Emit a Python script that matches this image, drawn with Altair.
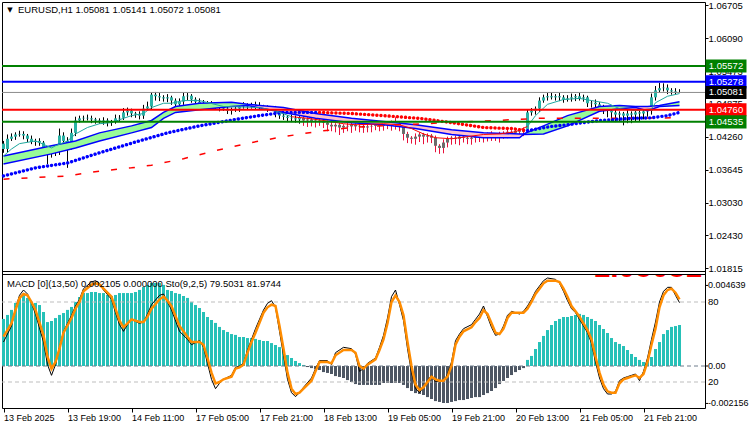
import altair as alt
import pandas as pd

# ---------------- values ----------------
symbol_line = "EURUSD,H1  1.05081 1.05141 1.05072 1.05081"
osc_line = "MACD [0](13,50) 0.002105 0.000000   Sto(9,2,5) 79.5031 81.9744"
big_red_text = ["1.05081"]

time_labels = ["13 Feb 2025", "13 Feb 19:00", "14 Feb 11:00", "17 Feb 05:00",
               "17 Feb 21:00", "18 Feb 13:00", "19 Feb 05:00", "19 Feb 21:00",
               "20 Feb 13:00", "21 Feb 05:00", "21 Feb 21:00"]
time_step = 16

price_ticks = [1.06705, 1.06090, 1.05473, 1.04875, 1.04260,
               1.03645, 1.03030, 1.02430, 1.01815]

first_open = 1.0413
close = [
    1.0403, 1.0422, 1.0426, 1.0430, 1.0431, 1.0428, 1.0422, 1.0416, 1.0418, 1.0415,
    1.0400, 1.0394, 1.0396, 1.0400, 1.0428, 1.0418, 1.0409, 1.0433, 1.0456, 1.0460,
    1.0461, 1.0460, 1.0458, 1.0456, 1.0454, 1.0456, 1.0452, 1.0454, 1.0460, 1.0461,
    1.0471, 1.0474, 1.0469, 1.0467, 1.0465, 1.0478, 1.0482, 1.0504, 1.0501, 1.0499,
    1.0497, 1.0499, 1.0493, 1.0486, 1.0491, 1.0501, 1.0502, 1.0495, 1.0491, 1.0488,
    1.0489, 1.0486, 1.0482, 1.0484, 1.0480, 1.0478, 1.0474, 1.0476, 1.0478, 1.0482,
    1.0484, 1.0482, 1.0486, 1.0484, 1.0482, 1.0480, 1.0478, 1.0478, 1.0469, 1.0465,
    1.0463, 1.0461, 1.0460, 1.0458, 1.0461, 1.0456, 1.0458, 1.0454, 1.0456, 1.0454,
    1.0452, 1.0448, 1.0445, 1.0448, 1.0443, 1.0446, 1.0445, 1.0448, 1.0445, 1.0446,
    1.0443, 1.0445, 1.0446, 1.0448, 1.0446, 1.0448, 1.0450, 1.0448, 1.0450, 1.0446,
    1.0431, 1.0424, 1.0422, 1.0426, 1.0430, 1.0426, 1.0428, 1.0424, 1.0409, 1.0405,
    1.0415, 1.0422, 1.0424, 1.0422, 1.0426, 1.0424, 1.0422, 1.0424, 1.0426, 1.0428,
    1.0426, 1.0430, 1.0428, 1.0426, 1.0431, 1.0433, 1.0435, 1.0433, 1.0437, 1.0435,
    1.0439, 1.0471, 1.0474, 1.0478, 1.0493, 1.0499, 1.0501, 1.0499, 1.0501, 1.0499,
    1.0495, 1.0497, 1.0499, 1.0501, 1.0497, 1.0499, 1.0488, 1.0489, 1.0486, 1.0482,
    1.0478, 1.0474, 1.0471, 1.0467, 1.0469, 1.0465, 1.0469, 1.0467, 1.0471, 1.0469,
    1.0473, 1.0474, 1.0499, 1.0512, 1.0516, 1.0517, 1.0512, 1.0510, 1.0508, 1.05081,
]
# wick lengths above / below the body, in pips (0.0001)
wick_up = [
    5, 8, 6, 4, 6, 5, 3, 6, 4, 5,   3, 4, 6, 5, 13, 6, 7, 8, 7, 5,
    4, 6, 5, 3, 4, 6, 4, 3, 7, 5,   8, 6, 4, 3, 6, 7, 9, 4, 5, 6,
    4, 6, 3, 4, 6, 7, 5, 3, 4, 6,   5, 3, 6, 4, 3, 5, 6, 4, 3, 5,
    6, 4, 3, 5, 6, 3, 4, 3, 5, 3,   4, 3, 6, 5, 3, 7, 4, 3, 6, 4,
    3, 4, 6, 3, 4, 3, 6, 4, 3, 4,   3, 4, 3, 6, 4, 3, 4, 6, 12, 4,
    3, 4, 3, 6, 4, 3, 4, 3, 4, 3,   6, 4, 3, 4, 3, 4, 6, 4, 3, 4,
    3, 4, 6, 3, 4, 3, 4, 3, 4, 3,   4, 6, 5, 4, 6, 5, 6, 7, 4, 6,
    4, 6, 7, 4, 6, 5, 3, 4, 6, 4,   3, 4, 3, 6, 4, 3, 8, 4, 3, 4,
    6, 4, 7, 8, 10, 8, 6, 4, 6, 6,
]
wick_dn = [
    7, 6, 4, 6, 4, 7, 6, 4, 7, 6,   8, 19, 7, 6, 8, 7, 41, 7, 6, 4,
    6, 4, 7, 6, 4, 6, 7, 6, 4, 6,   4, 6, 7, 6, 7, 6, 4, 6, 8, 7,
    6, 7, 8, 6, 7, 6, 7, 6, 4, 6,   7, 6, 4, 6, 7, 4, 6, 7, 4, 6,
    4, 6, 4, 7, 6, 4, 6, 4, 7, 6,   6, 8, 7, 6, 8, 10, 12, 9, 11, 8,
    10, 12, 9, 11, 14, 10, 9, 12, 8, 11,   10, 9, 11, 8, 10, 9, 8, 11, 9, 10,
    12, 10, 9, 11, 10, 14, 11, 10, 12, 11,  10, 9, 11, 10, 12, 9, 10, 11, 9, 10,
    11, 9, 10, 8, 11, 9, 10, 8, 9, 10,   8, 7, 6, 7, 6, 4, 6, 4, 6, 7,
    6, 4, 6, 7, 4, 6, 7, 8, 6, 7,   10, 12, 16, 14, 12, 18, 14, 16, 12, 14,
    11, 10, 7, 6, 4, 6, 7, 6, 4, 0.9,
]
bear_span = (75, 130)   # bars drawn grey with red wicks

level_price = [1.05572, 1.05278, 1.05081, 1.04760, 1.04535]
level_text = ["1.05572", "1.05278", "1.05081", "1.04760", "1.04535"]
level_line = ["#008000", "#0000ff", "#8c8c8c", "#ff0000", "#008000"]
level_box = ["#008000", "#0000ff", "#000000", "#ff0000", "#008000"]
level_width = [2, 2, 1, 2, 2]

# ribbon between two moving averages
rib_idx = [0, 12, 18, 24, 32, 37, 40, 43, 49, 57, 61, 70, 78, 87, 95, 103, 112, 120,
           129, 130, 135, 141, 149, 154, 158, 161, 164, 169]
rib_a = [1.0390, 1.0409, 1.0418, 1.0433, 1.0446, 1.0456, 1.0471, 1.0482, 1.0488, 1.0490,
         1.0486, 1.0480, 1.0469, 1.0460, 1.0454, 1.0448, 1.0439, 1.0433, 1.0431, 1.0431,
         1.0446, 1.0465, 1.0482, 1.0484, 1.0482, 1.0482, 1.0484, 1.0491]
rib_b = [1.0375, 1.0394, 1.0405, 1.0418, 1.0433, 1.0443, 1.0460, 1.0471, 1.0476, 1.0482,
         1.0484, 1.0471, 1.0460, 1.0452, 1.0448, 1.0441, 1.0430, 1.0424, 1.0424, 1.0430,
         1.0431, 1.0446, 1.0473, 1.0478, 1.0480, 1.0474, 1.0482, 1.0484]
rib_phases = [(0, 61, "up"), (61, 130, "down"), (130, 158, "up"),
              (158, 164, "down"), (164, 169, "up")]

# fast thin moving average
thin_idx = [0, 2, 4, 8, 9, 12, 13, 16, 18, 21, 24, 27, 30, 32, 35, 37, 40, 42, 45, 49,
            55, 64, 68, 72, 76, 80, 85, 88, 95, 99, 102, 105, 108, 112, 116, 120, 124,
            128, 131, 133, 136, 140, 144, 147, 151, 154, 158, 162, 163, 166, 169]
thin_val = [1.0390, 1.0403, 1.0413, 1.0418, 1.0415, 1.0405, 1.0409, 1.0418, 1.0431, 1.0443,
            1.0450, 1.0452, 1.0460, 1.0465, 1.0469, 1.0480, 1.0488, 1.0488, 1.0493, 1.0493,
            1.0482, 1.0480, 1.0474, 1.0463, 1.0460, 1.0456, 1.0450, 1.0448, 1.0450, 1.0448,
            1.0441, 1.0431, 1.0424, 1.0422, 1.0426, 1.0430, 1.0431, 1.0435, 1.0445, 1.0465,
            1.0486, 1.0495, 1.0497, 1.0493, 1.0488, 1.0478, 1.0474, 1.0478, 1.0489, 1.0501,
            1.0506]
thin_phases = [(0, 72, "up"), (72, 131, "down"), (131, 169, "up")]

# dotted moving average
dot_idx = [0, 8, 16, 24, 33, 41, 49, 58, 64, 70, 79, 87, 95, 104, 112, 120, 127, 131,
           137, 141, 149, 157, 162, 166, 169]
dot_val = [1.0353, 1.0368, 1.0377, 1.0396, 1.0416, 1.0433, 1.0446, 1.0458, 1.0465, 1.0471,
           1.0471, 1.0469, 1.0465, 1.0460, 1.0452, 1.0443, 1.0441, 1.0437, 1.0445, 1.0448,
           1.0456, 1.0460, 1.0461, 1.0465, 1.0471]
dot_phases = [(0, 79, "up"), (79, 131, "down"), (131, 169, "up")]

# long dashed moving average
slow_idx = [0, 16, 24, 32, 37, 45, 53, 62, 70, 78, 87, 99, 111, 123, 134, 149, 169]
slow_val = [1.0347, 1.0353, 1.0362, 1.0368, 1.0373, 1.0385, 1.0400, 1.0415, 1.0426, 1.0435,
            1.0443, 1.0448, 1.0452, 1.0456, 1.0460, 1.0460, 1.0461]

# MACD histogram, one per bar
macd_hist = [
    0.00271, 0.00294, 0.00323, 0.00363, 0.00397, 0.00415, 0.00392, 0.00369, 0.00363, 0.00351,
    0.00311, 0.00253, 0.00259, 0.00276, 0.00294, 0.00305, 0.00323, 0.00340, 0.00369, 0.00397,
    0.00420, 0.00420, 0.00426, 0.00426, 0.00420, 0.00420, 0.00409, 0.00403, 0.00409, 0.00420,
    0.00420, 0.00420, 0.00420, 0.00426, 0.00438, 0.00455, 0.00467, 0.00478, 0.00478, 0.00478,
    0.00467, 0.00438, 0.00432, 0.00420, 0.00415, 0.00403, 0.00392, 0.00369, 0.00351, 0.00334,
    0.00311, 0.00282, 0.00265, 0.00248, 0.00225, 0.00207, 0.00196, 0.00184, 0.00179, 0.00167,
    0.00167, 0.00161, 0.00161, 0.00156, 0.00150, 0.00144, 0.00144, 0.00132, 0.00121, 0.00109,
    0.00092, 0.00063, 0.00046, 0.00029, 0.00017, 0.00006, -0.00006, -0.00012, -0.00017, -0.00023,
    -0.00035, -0.00040, -0.00046, -0.00058, -0.00063, -0.00069, -0.00081, -0.00092, -0.00104, -0.00109,
    -0.00109, -0.00109, -0.00109, -0.00109, -0.00109, -0.00098, -0.00098, -0.00098, -0.00098, -0.00098,
    -0.00109, -0.00127, -0.00144, -0.00156, -0.00161, -0.00167, -0.00179, -0.00190, -0.00202, -0.00207,
    -0.00213, -0.00213, -0.00207, -0.00202, -0.00196, -0.00196, -0.00190, -0.00184, -0.00179, -0.00179,
    -0.00167, -0.00156, -0.00144, -0.00127, -0.00104, -0.00086, -0.00069, -0.00052, -0.00035, -0.00023,
    -0.00012, 0.00035, 0.00058, 0.00098, 0.00138, 0.00173, 0.00207, 0.00236, 0.00259, 0.00271,
    0.00282, 0.00282, 0.00288, 0.00294, 0.00300, 0.00294, 0.00282, 0.00271, 0.00259, 0.00236,
    0.00213, 0.00190, 0.00161, 0.00138, 0.00127, 0.00115, 0.00092, 0.00069, 0.00052, 0.00035,
    0.00023, 0.00029, 0.00052, 0.00098, 0.00138, 0.00184, 0.00207, 0.00225, 0.00230, 0.00236,
]
macd_ticks = [0.004639, 0.0, -0.002156]
macd_tick_text = ["0.004639", "0.00", "-0.002156"]

# stochastic (main black line, orange signal)
sto_idx = [
    0, 2, 3, 4, 5, 6, 7, 8, 10, 11,   12, 13, 14, 15, 17, 18, 19, 20, 22, 23,
    24, 25, 27, 28, 29, 30, 31, 32, 34, 35,   36, 37, 39, 40, 41, 42, 44, 46, 47, 49,
    50, 51, 52, 53, 54, 55, 57, 58, 59, 60,   61, 62, 63, 65, 66, 67, 68, 69, 70, 71,
    72, 73, 74, 75, 77, 78, 79, 81, 82, 83,   85, 87, 88, 89, 90, 91, 93, 94, 95, 96,
    97, 98, 99, 100, 101, 102, 103, 104, 105, 106,   107, 108, 109, 110, 111, 112, 113, 114, 115, 117,
    118, 119, 120, 121, 122, 123, 124, 125, 126, 127,   129, 130, 131, 132, 133, 134, 135, 136, 138, 139,
    140, 141, 142, 143, 144, 145, 146, 147, 148, 149,   150, 151, 152, 153, 154, 155, 156, 157, 158, 159,
    160, 161, 162, 163, 164, 165, 166, 167, 168, 169,
]
sto_signal = [
    54, 64, 74, 83, 86, 85, 80, 74, 55, 39,   30, 35, 45, 57, 68, 75, 80, 88, 93, 94,
    93, 90, 84, 75, 66, 61, 64, 67, 65, 65,   69, 75, 82, 84, 81, 77, 62, 54, 50, 50,
    48, 38, 27, 19, 20, 22, 24, 30, 31, 33,   42, 50, 57, 72, 76, 78, 77, 62, 45, 27,
    15, 11, 12, 15, 21, 28, 35, 35, 34, 40,   44, 44, 42, 32, 30, 33, 37, 44, 52, 64,
    80, 85, 80, 70, 50, 32, 18, 14, 16, 20,   24, 22, 21, 21, 24, 32, 48, 54, 58, 61,
    65, 68, 74, 71, 64, 57, 56, 60, 68, 72,   72, 72, 75, 80, 86, 90, 94, 96, 96, 95,
    90, 84, 77, 73, 69, 64, 59, 52, 39, 27,   18, 13, 12, 12, 19, 22, 23, 24, 25, 23,
    26, 35, 48, 60, 76, 85, 89, 90, 87, 82,
]
sto_main = [
    50, 62, 75, 85, 89, 86, 79, 71, 50, 33,   25, 33, 46, 58, 70, 77, 82, 90, 95, 96,
    94, 89, 82, 72, 63, 58, 63, 67, 64, 65,   71, 78, 85, 86, 80, 74, 58, 52, 48, 51,
    46, 34, 22, 15, 19, 22, 25, 31, 32, 34,   44, 52, 60, 74, 79, 81, 76, 58, 40, 22,
    12, 9, 12, 16, 23, 30, 36, 36, 33, 42,   46, 45, 41, 28, 30, 34, 38, 46, 55, 68,
    84, 89, 78, 66, 45, 27, 15, 12, 16, 21,   25, 20, 21, 20, 26, 35, 51, 56, 60, 63,
    67, 71, 77, 69, 61, 55, 56, 62, 70, 73,   71, 73, 77, 82, 88, 92, 96, 98, 97, 94,
    88, 81, 75, 72, 67, 62, 57, 49, 35, 23,   15, 11, 11, 13, 21, 23, 24, 25, 26, 21,
    28, 38, 52, 65, 80, 88, 91, 91, 85, 79.5,
]
sto_levels = [80, 20]

# ---------------- tables built from the values ----------------
TEAL, GREY, WICK_RED = "#2ab3a6", "#6b6b6b", "#e8103a"
rows = []
for i, c in enumerate(close):
    o = first_open if i == 0 else close[i - 1]
    bear = bear_span[0] <= i <= bear_span[1]
    rows.append(dict(i=i, o=o, c=c,
                     hi=max(o, c) + wick_up[i] * 0.0001,
                     lo=min(o, c) - wick_dn[i] * 0.0001,
                     body=GREY if bear else TEAL,
                     wick=WICK_RED if bear else "#000000"))
cdf = pd.DataFrame(rows)


def segmented(idx, cols, phases, colors):
    out = []
    for k, (a, b, ph) in enumerate(phases):
        for j, ix in enumerate(idx):
            if a <= ix <= b:
                r = {"i": ix, "seg": k, "col": colors[ph]}
                for name, vals in cols.items():
                    r[name] = vals[j]
                out.append(r)
    return pd.DataFrame(out)


rib_seg = segmented(rib_idx, {"a": rib_a, "b": rib_b}, rib_phases,
                    {"up": "#98fb98", "down": "#ffc0cb"})
rib_df = pd.DataFrame({"i": rib_idx, "a": rib_a, "b": rib_b})
thin_df = segmented(thin_idx, {"v": thin_val}, thin_phases, {"up": "#20a89f", "down": "#ff0000"})
dot_df = segmented(dot_idx, {"v": dot_val}, dot_phases, {"up": "#0000ff", "down": "#ff0000"})
slow_df = pd.DataFrame({"i": slow_idx, "v": slow_val})
lvl_df = pd.DataFrame({"p": level_price, "lab": level_text, "lc": level_line,
                       "bc": level_box, "w": level_width})
hist_df = pd.DataFrame({"i": list(range(len(macd_hist))), "v": macd_hist,
                        "col": ["#26c1b8" if v > 0 else "#4d5663" for v in macd_hist]})
mtk_df = pd.DataFrame({"v": macd_ticks, "lab": macd_tick_text})
sto_df = pd.DataFrame({"i": sto_idx, "m": sto_main, "s": sto_signal})
stl_df = pd.DataFrame({"s": sto_levels, "lab": [str(v) for v in sto_levels]})

# ---------------- layout: one view, two panels stacked via scale ranges ----------------
FONT = "Liberation Sans"
W, H = 703, 406          # whole drawing area (price panel + oscillator panel)
MAIN_BOTTOM = 269        # price panel occupies 0..269
OSC_TOP = 272            # oscillator panel occupies 272..406

# padding=0: no automatic inset of the bar positions
xs = alt.Scale(domain=[-0.375, 175.375], nice=False, zero=False, padding=0)
ys = alt.Scale(domain=[1.01764, 1.06761], range=[MAIN_BOTTOM, 0], nice=False, zero=False, padding=0)
ms = alt.Scale(domain=[-0.002418, 0.005297], range=[H, OSC_TOP], nice=False, zero=False, padding=0)
ss = alt.Scale(domain=[0.5, 101], range=[H, OSC_TOP], nice=False, zero=False, padding=0)

yaxis = alt.Axis(orient="right", values=price_ticks, format=".5f", title=None, grid=False,
                 domain=False, tickSize=3, tickColor="black", labelPadding=0,
                 labelFont=FONT, labelFontSize=9.5, labelColor="black", labelOverlap=False)

label_expr = "[" + ",".join("'%s'" % t for t in time_labels) + "][round(datum.value/%d)]" % time_step
xaxis = alt.Axis(values=list(range(0, time_step * len(time_labels), time_step)),
                 labelExpr=label_expr, labelAlign="left", labelBaseline="top",
                 labelFont=FONT, labelFontSize=9, labelColor="black", tickColor="black",
                 tickSize=4, labelPadding=1, domain=False, grid=False, labelFlush=False,
                 labelOverlap=False, title=None)
X = alt.X("i:Q", scale=xs, axis=xaxis)


def YP(f, show=False):
    return alt.Y(f, type="quantitative", scale=ys, axis=yaxis if show else None)


def YM(f):
    return alt.Y(f, type="quantitative", scale=ms, axis=None)


def YS(f):
    return alt.Y(f, type="quantitative", scale=ss, axis=None)


# ---------------- price panel ----------------
wicks = alt.Chart(cdf).mark_rule(strokeWidth=1).encode(
    x=X, y=YP("lo", show=True), y2="hi", color=alt.Color("wick:N", scale=None))
bodies = alt.Chart(cdf).mark_bar(size=3).encode(
    x=X, y=YP("o"), y2="c", color=alt.Color("body:N", scale=None))
ribbon = alt.Chart(rib_seg).mark_area(opacity=1).encode(
    x=X, y=YP("a"), y2="b", color=alt.Color("col:N", scale=None), detail="seg:N")
rib_l1 = alt.Chart(rib_df).mark_line(color="#0000ff", strokeWidth=1.5).encode(x=X, y=YP("a"))
rib_l2 = alt.Chart(rib_df).mark_line(color="#0000ff", strokeWidth=1.5).encode(x=X, y=YP("b"))
slow = alt.Chart(slow_df).mark_line(color="#ff0000", strokeWidth=1.5, strokeDash=[6, 12]).encode(
    x=X, y=YP("v"))
dots = alt.Chart(dot_df).mark_line(strokeWidth=3.4, strokeDash=[0.1, 4], strokeCap="round").encode(
    x=X, y=YP("v"), color=alt.Color("col:N", scale=None), detail="seg:N")
thin = alt.Chart(thin_df).mark_line(strokeWidth=1).encode(
    x=X, y=YP("v"), color=alt.Color("col:N", scale=None), detail="seg:N")
levels = alt.Chart(lvl_df).mark_rule().encode(
    y=YP("p"), color=alt.Color("lc:N", scale=None), strokeWidth=alt.StrokeWidth("w:Q", scale=None))
boxes = alt.Chart(lvl_df).mark_point(
    shape="M-1,-0.32L1,-0.32L1,0.32L-1,0.32Z", size=1681, filled=True, opacity=1, strokeWidth=0
).encode(x=alt.value(724), y=YP("p"), color=alt.Color("bc:N", scale=None))
box_txt = alt.Chart(lvl_df).mark_text(color="white", font=FONT, fontSize=9.5, align="center",
                                      baseline="middle").encode(
    x=alt.value(724), y=YP("p"), text="lab:N")
tri = alt.Chart(pd.DataFrame({"t": ["▼"]})).mark_text(
    font="DejaVu Sans", fontSize=7, align="center", baseline="middle", color="black").encode(
    x=alt.value(8), y=alt.value(8), text="t:N")
head = alt.Chart(pd.DataFrame({"t": [symbol_line]})).mark_text(
    font=FONT, fontSize=9.5, align="left", baseline="middle", color="black").encode(
    x=alt.value(16), y=alt.value(8), text="t:N")

# ---------------- oscillator panel ----------------
red_big = alt.Chart(pd.DataFrame({"t": big_red_text})).mark_text(
    font=FONT, fontSize=30, fontWeight="bold", align="right", baseline="alphabetic",
    color="#ff0000").encode(x=alt.value(700), y=alt.value(OSC_TOP + 3), text="t:N")
mask = alt.Chart(pd.DataFrame({"k": [0]})).mark_rect(color="white").encode(
    x=alt.value(580), x2=alt.value(702), y=alt.value(MAIN_BOTTOM - 30), y2=alt.value(OSC_TOP))
hist = alt.Chart(hist_df).mark_bar(size=3).encode(
    x=X, y=YM("v"), color=alt.Color("col:N", scale=None))
zero = alt.Chart(pd.DataFrame({"v": [0.0]})).mark_rule(
    color="#6f7d8c", strokeDash=[4, 3], strokeWidth=1).encode(y=YM("v"))
sto_lv = alt.Chart(stl_df).mark_rule(color="#bdbdbd", strokeDash=[4, 3], strokeWidth=1).encode(
    y=YS("s"))
sto_m = alt.Chart(sto_df).mark_line(color="black", strokeWidth=1).encode(x=X, y=YS("m"))
sto_s = alt.Chart(sto_df).mark_line(color="#ff8c00", strokeWidth=2.5).encode(x=X, y=YS("s"))
sto_lab = alt.Chart(stl_df).mark_text(font=FONT, fontSize=9.5, align="left", baseline="middle",
                                      color="black").encode(
    x=alt.value(706), y=YS("s"), text="lab:N")
m_ticks = alt.Chart(mtk_df).mark_rule(color="black", strokeWidth=1).encode(
    x=alt.value(W), x2=alt.value(W + 3), y=YM("v"))
m_labs = alt.Chart(mtk_df).mark_text(font=FONT, fontSize=9, align="left", baseline="middle",
                                     color="black").encode(
    x=alt.value(706), y=YM("v"), text="lab:N")
osc_head = alt.Chart(pd.DataFrame({"t": [osc_line]})).mark_text(
    font=FONT, fontSize=9.5, align="left", baseline="middle", color="black").encode(
    x=alt.value(5), y=alt.value(OSC_TOP + 10), text="t:N")

# panel borders between the two panes
borders = alt.Chart(pd.DataFrame({"yy": [MAIN_BOTTOM + 0.5, OSC_TOP + 0.5]})).mark_rule(
    color="black", strokeWidth=1).encode(
    x=alt.value(0), x2=alt.value(W), y=alt.Y("yy:Q", scale=None, axis=None))

chart = alt.layer(
    wicks, bodies, ribbon, rib_l1, rib_l2, slow, dots, thin, levels,
    red_big, mask,
    hist, zero, sto_lv, sto_m, sto_s,
    boxes, box_txt, tri, head, sto_lab, m_ticks, m_labs, osc_head, borders
).resolve_scale(y="independent").properties(
    width=W, height=H,
    autosize=alt.AutoSizeParams(type="none"),
    padding={"left": 2, "top": 2, "right": 45, "bottom": 22},
    background="white",
).configure_view(stroke="black", strokeWidth=1)

chart.save("out.html", embed_options={"renderer": "svg", "actions": False})
